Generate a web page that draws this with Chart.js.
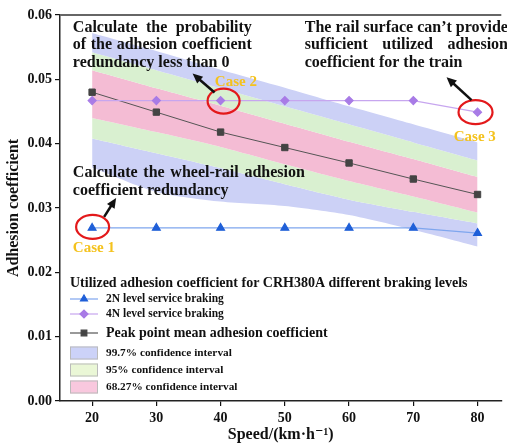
<!DOCTYPE html>
<html>
<head>
<meta charset="utf-8">
<script src="https://cdn.jsdelivr.net/npm/chart.js@4.4.1/dist/chart.umd.min.js"></script>
<style>
body{margin:0;background:#fff;}
#wrap{width:507px;height:444px;}
</style>
</head>
<body>
<div id="wrap"><canvas id="chart1" width="507" height="444"></canvas></div>
<script>
// speed in km/h
var speeds = [20, 30, 40, 50, 60, 70, 80];
var brake2N = [0.0269, 0.0269, 0.0269, 0.0269, 0.0269, 0.0269, 0.0261];
var brake4N = [0.0467, 0.0467, 0.0467, 0.0467, 0.0467, 0.0467, 0.0449];
var peakMean = [0.0480, 0.0449, 0.0418, 0.0394, 0.0370, 0.0345, 0.0321];

// confidence bands around the peak point mean
var ci997Upper = [0.0572, 0.0544, 0.0515, 0.0487, 0.0458, 0.0430, 0.0402];
var ci95Upper = [0.0542, 0.0514, 0.0486, 0.0458, 0.0430, 0.0402, 0.0374];
var ci6827Upper = [0.0514, 0.0486, 0.0459, 0.0431, 0.0403, 0.0376, 0.0348];
var ci6827Lower = [0.0440, 0.0418, 0.0395, 0.0368, 0.0342, 0.0318, 0.0293];
var ci95Lower = [0.0408, 0.0385, 0.0362, 0.0337, 0.0313, 0.0294, 0.0276];
var ci997Lower = [0.0363, 0.0325, 0.0310, 0.0303, 0.0289, 0.0266, 0.0240];

var xTicks = [20, 30, 40, 50, 60, 70, 80];
var yTicks = [0, 0.01, 0.02, 0.03, 0.04, 0.05, 0.06];

var serif = '"Liberation Serif", "DejaVu Serif", serif';
var blueBand = '#ccd1f6';
var greenBand = '#d9f0d0';
var pinkBand = '#f4bcd4';

function pts(arr){
    return speeds.map(function(s, i){ return {x: s, y: arr[i]}; });
}

function band(arr, color, fill){
    return {
        data: pts(arr),
        borderWidth: 0,
        pointRadius: 0,
        tension: 0.25,
        backgroundColor: color,
        fill: fill,
        order: 10
    };
}

// spreads the words of a line over the given width
function drawJustified(c, text, x, y, width){
    var words = text.split(' ');
    if(!width || words.length < 2 || c.measureText(text).width >= width){ c.fillText(text, x, y); return; }
    var total = 0;
    words.forEach(function(w){ total += c.measureText(w).width; });
    var gap = (width - total) / (words.length - 1);
    var cx = x;
    words.forEach(function(w){
        c.fillText(w, cx, y);
        cx += c.measureText(w).width + gap;
    });
}

function arrow(c, x1, y1, x2, y2){
    var a = Math.atan2(y2 - y1, x2 - x1);
    c.beginPath();
    c.moveTo(x1, y1);
    c.lineTo(x2 - 6 * Math.cos(a), y2 - 6 * Math.sin(a));
    c.stroke();
    c.beginPath();
    c.moveTo(x2, y2);
    c.lineTo(x2 - 10 * Math.cos(a) + 4.5 * Math.sin(a), y2 - 10 * Math.sin(a) - 4.5 * Math.cos(a));
    c.lineTo(x2 - 10 * Math.cos(a) - 4.5 * Math.sin(a), y2 - 10 * Math.sin(a) + 4.5 * Math.cos(a));
    c.closePath();
    c.fill();
}

// notes, circles, arrows and the legend drawn on top of the plot
var notes = {
    id: 'notes',
    afterDatasetsDraw: function(chart){
        var c = chart.ctx;
        var xs = chart.scales.x, ys = chart.scales.y;
        var area = chart.chartArea;
        function X(v){ return xs.getPixelForValue(v); }
        function Y(v){ return ys.getPixelForValue(v); }

        c.save();
        // top frame line
        c.strokeStyle = '#666';
        c.lineWidth = 2;
        c.beginPath();
        c.moveTo(area.left, area.top);
        c.lineTo(area.right, area.top);
        c.stroke();

        c.fillStyle = '#111';
        c.font = 'bold 16px ' + serif;
        c.textBaseline = 'middle';
        c.textAlign = 'left';

        drawJustified(c, 'Calculate the probability', X(17), Y(0.0580), 179);
        drawJustified(c, 'of the adhesion coefficient', X(17), Y(0.0553), 179);
        drawJustified(c, 'redundancy less than 0', X(17), Y(0.0525));

        var w1 = c.measureText('The rail surface can\u2019t provide').width;
        drawJustified(c, 'The rail surface can\u2019t provide', X(53.1), Y(0.0580));
        drawJustified(c, 'sufficient utilized adhesion', X(53.1), Y(0.0553), w1);
        drawJustified(c, 'coefficient for the train', X(53.1), Y(0.0525));

        drawJustified(c, 'Calculate the wheel-rail adhesion', X(17), Y(0.0354), 232);
        drawJustified(c, 'coefficient redundancy', X(17), Y(0.0326));

        c.fillStyle = '#f4c21d';
        c.font = 'bold 15px ' + serif;
        c.fillText('Case 2', X(39.1), Y(0.0495));
        c.fillText('Case 3', X(76.3), Y(0.0410));
        c.fillText('Case 1', X(17), Y(0.0238));

        // circled points
        var p2 = {x: X(speeds[2]), y: Y(brake4N[2])};
        var p3 = {x: X(speeds[6]), y: Y(brake4N[6])};
        var p1 = {x: X(speeds[0]), y: Y(brake2N[0])};
        c.strokeStyle = '#e3191b';
        c.lineWidth = 2.2;
        c.beginPath(); c.ellipse(p2.x + 3, p2.y + 0.5, 16, 12.5, 0, 0, Math.PI * 2); c.stroke();
        c.beginPath(); c.ellipse(p3.x - 2, p3.y, 17, 12, 0, 0, Math.PI * 2); c.stroke();
        c.beginPath(); c.ellipse(p1.x + 0.5, p1.y - 1, 16.5, 12, 0, 0, Math.PI * 2); c.stroke();

        c.strokeStyle = '#111';
        c.fillStyle = '#111';
        c.lineWidth = 2.5;
        arrow(c, p2.x - 6, p2.y - 8, p2.x - 28, p2.y - 27);
        arrow(c, p3.x - 6, p3.y - 12, p3.x - 31, p3.y - 35);
        arrow(c, p1.x + 12, p1.y - 11, p1.x + 24, p1.y - 30);

        // legend
        var lx = area.left + 10;
        c.fillStyle = '#111';
        c.font = 'bold 14px ' + serif;
        c.fillText('Utilized adhesion coefficient for CRH380A different braking levels', lx, 283);

        var rows = [
            {y: 299, line: '#7fa6ee', fill: '#1f5fd8', style: 'triangle', text: '2N level service braking', size: 11.5},
            {y: 314, line: '#c7a6ef', fill: '#a87be6', style: 'rectRot', text: '4N level service braking', size: 11.5},
            {y: 333, line: '#555', fill: '#444', style: 'rect', text: 'Peak point mean adhesion coefficient', size: 14}
        ];
        rows.forEach(function(r){
            c.strokeStyle = r.line;
            c.lineWidth = 1.2;
            c.beginPath(); c.moveTo(lx, r.y); c.lineTo(lx + 28, r.y); c.stroke();
            c.fillStyle = r.fill;
            c.strokeStyle = r.fill;
            Chart.helpers.drawPoint(c, {pointStyle: r.style, radius: 4, rotation: 0, borderWidth: 1}, lx + 14, r.y);
            c.fillStyle = '#111';
            c.font = 'bold ' + r.size + 'px ' + serif;
            c.fillText(r.text, lx + 36, r.y);
        });

        var boxes = [
            {y: 353, color: '#ccd2f8', text: '99.7% confidence interval'},
            {y: 370, color: '#eaf7d6', text: '95% confidence interval'},
            {y: 387, color: '#f9c8de', text: '68.27% confidence interval'}
        ];
        boxes.forEach(function(b){
            c.fillStyle = b.color;
            c.fillRect(lx, b.y - 6.5, 28, 13);
            c.strokeStyle = '#bbb';
            c.lineWidth = 1;
            c.strokeRect(lx + 0.5, b.y - 6, 27, 12);
            c.fillStyle = '#111';
            c.font = 'bold 11.3px ' + serif;
            c.fillText(b.text, lx + 36, b.y);
        });
        c.restore();
    }
};

var ctx = document.getElementById("chart1").getContext('2d');
var chart = new Chart(ctx, {
    type: 'line',
    data: {
        datasets: [
            band(ci997Upper, blueBand, '+1'),
            band(ci95Upper, greenBand, '+1'),
            band(ci6827Upper, pinkBand, '+1'),
            band(ci6827Lower, greenBand, '+1'),
            band(ci95Lower, blueBand, '+1'),
            band(ci997Lower, blueBand, false),
            {
                data: pts(brake2N),
                borderColor: '#7fa6ee',
                borderWidth: 1.2,
                pointStyle: 'triangle',
                pointRadius: 4.5,
                pointBackgroundColor: '#1f5fd8',
                pointBorderColor: '#1f5fd8',
                fill: false,
                order: 0
            },
            {
                data: pts(brake4N),
                borderColor: '#c7a6ef',
                borderWidth: 1.2,
                pointStyle: 'rectRot',
                pointRadius: 4,
                pointBackgroundColor: '#a87be6',
                pointBorderColor: '#a87be6',
                fill: false,
                order: 0
            },
            {
                data: pts(peakMean),
                borderColor: '#555',
                borderWidth: 1,
                pointStyle: 'rect',
                pointRadius: 4.5,
                pointBackgroundColor: '#444',
                pointBorderColor: '#444',
                fill: false,
                order: 0
            }
        ]
    },
    options: {
        responsive: false,
        animation: false,
        layout: { padding: { top: 15, right: 0, left: 0, bottom: 0 } },
        plugins: {
            legend: { display: false },
            tooltip: { enabled: false }
        },
        scales: {
            x: {
                type: 'linear',
                min: 15,
                max: 83.7,
                afterBuildTicks: function(scale){
                    scale.ticks = xTicks.map(function(v){ return {value: v}; });
                },
                afterFit: function(scale){ scale.height = 43; },
                ticks: {
                    color: '#111',
                    padding: 4,
                    maxRotation: 0,
                    font: { family: serif, size: 14, weight: 'bold' }
                },
                grid: { drawOnChartArea: false, tickLength: 5, color: '#111', lineWidth: 1.2 },
                border: { color: '#222', width: 1.5 },
                title: {
                    display: true,
                    text: 'Speed/(km\u00b7h\u207b\u00b9)',
                    color: '#111',
                    padding: 0,
                    font: { family: serif, size: 16, weight: 'bold' }
                }
            },
            y: {
                min: 0,
                max: 0.06,
                afterBuildTicks: function(scale){
                    scale.ticks = yTicks.map(function(v){ return {value: v}; });
                },
                afterFit: function(scale){ scale.width = 60; },
                ticks: {
                    color: '#111',
                    padding: 3,
                    callback: function(v){ return v.toFixed(2); },
                    font: { family: serif, size: 14, weight: 'bold' }
                },
                grid: { drawOnChartArea: false, tickLength: 5, color: '#111', lineWidth: 1.2 },
                border: { color: '#222', width: 1.5 },
                title: {
                    display: true,
                    text: 'Adhesion coefficient',
                    color: '#111',
                    padding: 4,
                    font: { family: serif, size: 16, weight: 'bold' }
                }
            }
        }
    },
    plugins: [notes]
});
</script>
</body>
</html>
